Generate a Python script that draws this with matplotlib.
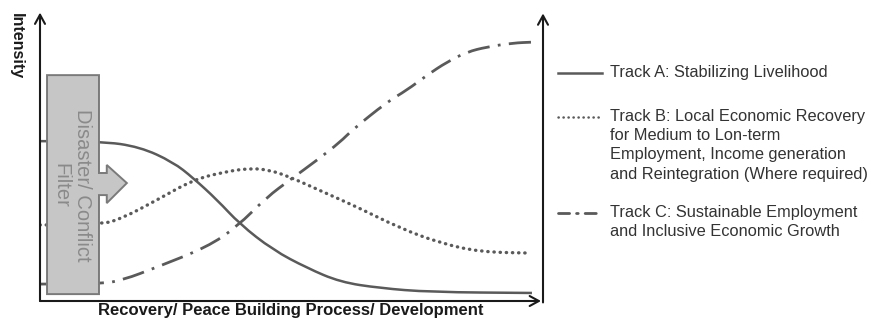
import matplotlib
matplotlib.use("Agg")
import matplotlib.pyplot as plt
from matplotlib.lines import Line2D
from matplotlib.patches import Polygon, PathPatch
from matplotlib.path import Path

plt.rcParams['font.family'] = ['Liberation Sans', 'DejaVu Sans']

# curves: x = progress (0-100), y = intensity (0-100)
track_a_x = [0, 12.0, 19.9, 26.5, 30.5, 35.3, 39.8, 46.4, 53.2, 59.8, 67.7, 77.7, 98.0]
track_a_y = [55.7, 55.7, 53.7, 48.4, 42.9, 35.2, 26.8, 17.8, 11.5, 6.6, 4.5, 3.1, 2.8]

track_b_x = [0, 12.0, 16.5, 23.3, 30.5, 36.5, 41.8, 45.8, 49.8, 56.4, 63.1, 71.7, 79.7, 87.6, 97.6]
track_b_y = [26.5, 26.5, 28.9, 35.2, 42.2, 44.9, 46.3, 45.6, 43.2, 38.0, 32.8, 25.4, 20.2, 17.1, 16.7]

track_c_x = [0, 12.0, 16.5, 23.3, 33.3, 39.2, 45.2, 49.8, 55.2, 59.8, 62.2, 69.1, 73.1,
             77.1, 81.1, 85.1, 89.0, 94.2, 98.2]
track_c_y = [5.9, 5.9, 7.3, 11.8, 18.8, 25.8, 36.2, 42.2, 49.1, 55.4, 59.6, 69.3, 73.5,
             78.7, 83.3, 86.8, 88.5, 89.9, 90.2]

legend_a = ["Track A: Stabilizing Livelihood"]
legend_b = ["Track B: Local Economic Recovery", "for Medium to Lon-term",
            "Employment, Income generation", "and Reintegration (Where required)"]
legend_c = ["Track C: Sustainable Employment", "and Inclusive Economic Growth"]

x_label = "Recovery/ Peace Building Process/ Development"
y_label = "Intensity"
filter_text = "Disaster/ Conflict\nFilter"

W, H = 875, 326
fig = plt.figure(figsize=(W / 100, H / 100), dpi=100)
ax = fig.add_axes([40 / W, (H - 301) / H, 502 / W, 287 / H])
ax.set_xlim(0, 100)
ax.set_ylim(0, 100)
ax.axis('off')

line_col = '#5a5a5a'


def smooth_path(xs, ys):
    # quadratic bezier through the midpoints, read points act as control points
    pts = list(zip(xs, ys))
    verts = [pts[0]]
    codes = [Path.MOVETO]
    for i in range(1, len(pts) - 1):
        mid = ((pts[i][0] + pts[i + 1][0]) / 2, (pts[i][1] + pts[i + 1][1]) / 2)
        verts += [pts[i], mid]
        codes += [Path.CURVE3, Path.CURVE3]
    verts.append(pts[-1])
    codes.append(Path.LINETO)
    return Path(verts, codes)


def draw_curve(xs, ys, **kw):
    ax.add_patch(PathPatch(smooth_path(xs, ys), fill=False, edgecolor=line_col, zorder=2, **kw))


draw_curve(track_a_x, track_a_y, lw=1.8, capstyle='butt')
draw_curve(track_b_x, track_b_y, lw=2.4, linestyle=(0, (0.1, 1.75)), capstyle='round')
draw_curve(track_c_x, track_c_y, lw=2.0, linestyle=(0, (8, 3, 1, 3)))

# axes with open arrow heads
arrow_kw = dict(arrowstyle='->,head_length=0.55,head_width=0.3', lw=1.5, color='#1a1a1a',
                mutation_scale=12, shrinkA=0, shrinkB=0)
ax.annotate('', xy=(0, 100.5), xytext=(0, 0), arrowprops=arrow_kw, annotation_clip=False)
ax.annotate('', xy=(99.8, 0), xytext=(0, 0), arrowprops=arrow_kw, annotation_clip=False)
ax.annotate('', xy=(100.2, 100.2), xytext=(100.2, -0.5), arrowprops=arrow_kw, annotation_clip=False)

# filter box with arrow
box = Polygon([(1.4, 78.7), (11.75, 78.7), (11.75, 44.6), (13.3, 44.6), (13.3, 47.4),
               (17.3, 41.1), (13.3, 34.1), (13.3, 36.9), (11.75, 36.9), (11.75, 2.4),
               (1.4, 2.4)], closed=True, facecolor='#c6c6c6', edgecolor='#7a7a7a',
              lw=1.4, zorder=3)
ax.add_patch(box)
ax.text(6.3, 40.4, filter_text, rotation=270, ha='center', va='center', color='#8a8a8a',
        fontsize=14.5, linespacing=1.15, multialignment='center', zorder=4)

fig.text(291 / W, 1 - 311 / H, x_label, ha='center', va='center', fontsize=12,
         fontweight='bold', color='#1a1a1a')
fig.text(16 / W, 1 - 46 / H, y_label, ha='center', va='center', rotation=270,
         fontsize=11.5, fontweight='bold', color='#1a1a1a')


# legend drawn by hand so the swatch sits on the first text line
def legend_entry(lines, y0, style, dash_lw):
    fy = 1 - y0 / H
    fig.add_artist(Line2D([558 / W, 602 / W], [fy, fy], transform=fig.transFigure,
                          color=line_col, lw=dash_lw, linestyle=style,
                          dash_capstyle='round' if style != '-' else 'butt'))
    for i, t in enumerate(lines):
        fig.text(610 / W, 1 - (y0 + 19 * i) / H, t, ha='left', va='center',
                 fontsize=11.8, color='#333333')


legend_entry(legend_a, 73, '-', 1.8)
legend_entry(legend_b, 117, (0, (0.1, 1.9)), 1.8)
legend_entry(legend_c, 213, (0, (4, 2.5, 0.6, 2.5)), 2.0)

fig.savefig('out.png', dpi=100, facecolor='white')
